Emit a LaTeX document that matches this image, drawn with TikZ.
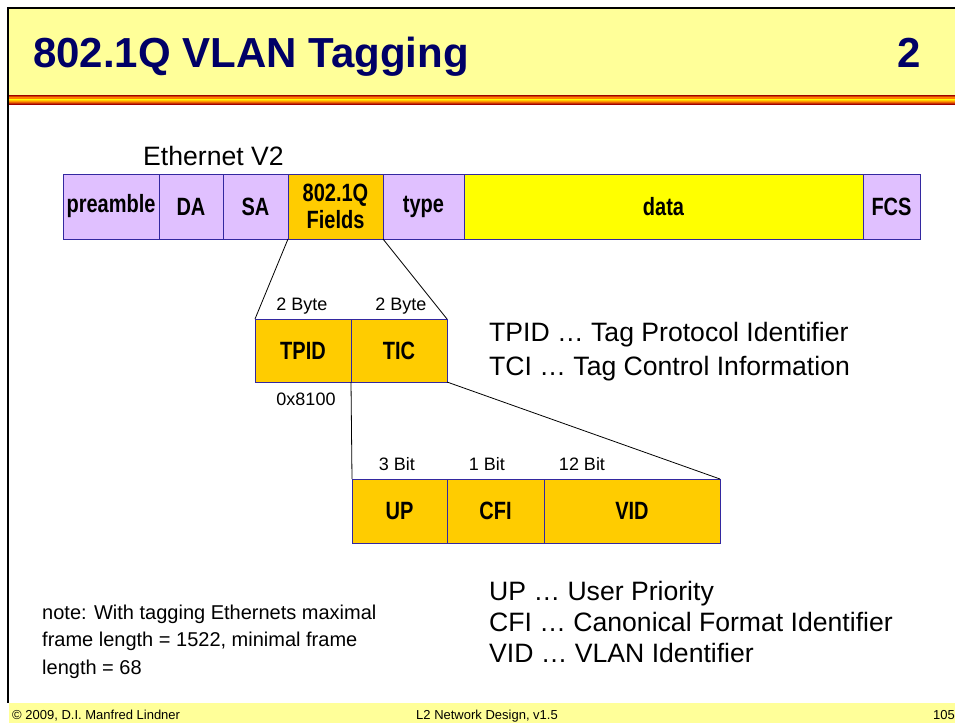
\documentclass[tikz,border=0pt]{standalone}
\usepackage{fontspec}
\setmainfont{Liberation Sans}
\newfontfamily\narrowfont[FakeStretch=0.80]{Liberation Sans}
\definecolor{lav}{RGB}{224,192,255}
\definecolor{orng}{RGB}{255,204,0}
\definecolor{ylw}{RGB}{255,255,0}
\definecolor{hdr}{RGB}{255,255,153}
\definecolor{navy}{RGB}{0,0,102}
\definecolor{bline}{RGB}{51,40,160}
\definecolor{dred}{RGB}{160,0,0}
\tikzset{
  field/.style={draw=bline, line width=1pt, anchor=north west, inner sep=0pt, outer sep=0pt,
    align=center, font=\narrowfont\bfseries\fontsize{25}{28}\selectfont},
  small/.style={anchor=base, inner sep=0pt, font=\fontsize{18}{21}\selectfont},
  big/.style={anchor=base west, inner sep=0pt, font=\fontsize{26.6}{31}\selectfont},
  note/.style={anchor=base west, inner sep=0pt, font=\fontsize{20}{24}\selectfont},
  foot/.style={anchor=base west, inner sep=0pt, font=\fontsize{13}{15}\selectfont},
  conn/.style={draw=black, line width=0.8pt}
}
\begin{document}
\begin{tikzpicture}[x=1pt, y=-1pt]
\useasboundingbox (0,0) rectangle (955,723);
% header
\fill[hdr] (9,9) rectangle (955,95);
\shade[top color=dred, bottom color=orange, middle color=orange] (9,95) rectangle (955,99);
\shade[top color=ylw, bottom color=dred, middle color=orange] (9,99) rectangle (955,104);
\draw[line width=2.5pt] (8,8) -- (955,8);
\draw[line width=2pt] (8,7) -- (8,703);
\node[anchor=base west, inner sep=0pt, text=navy, font=\bfseries\fontsize{42}{48}\selectfont] (title) at (33,67) {802.1Q VLAN Tagging};
\node[anchor=base west, inner sep=0pt, text=navy, font=\bfseries\fontsize{42}{48}\selectfont] (num) at (897,67) {2};
% footer
\fill[hdr] (9,703) rectangle (955,723);
\node[foot] (f1) at (12,719) {\textcopyright{} 2009, D.I. Manfred Lindner};
\node[foot] (f2) at (416,719) {L2 Network Design, v1.5};
\node[foot] (f3) at (933,719) {105};
% ethernet frame
\node[big] (eth) at (143,165) {Ethernet V2};
\node[field, fill=lav, minimum width=96pt, minimum height=65pt] (pre) at (63,174) {preamble};
\node[field, fill=lav, minimum width=64pt, minimum height=65pt] (da) at (pre.north east) {DA};
\node[field, fill=lav, minimum width=65pt, minimum height=65pt] (sa) at (da.north east) {SA};
\node[field, fill=orng, minimum width=95pt, minimum height=65pt] (q) at (sa.north east) {802.1Q\\[-1pt]Fields};
\node[field, fill=lav, minimum width=81pt, minimum height=65pt] (type) at (q.north east) {type};
\node[field, fill=ylw, minimum width=399pt, minimum height=65pt] (data) at (type.north east) {data};
\node[field, fill=lav, minimum width=57pt, minimum height=65pt] (fcs) at (data.north east) {FCS};
% tag
\node[field, fill=orng, minimum width=96pt, minimum height=63pt] (tpid) at (255,319) {TPID};
\node[field, fill=orng, minimum width=96pt, minimum height=63pt] (tic) at (tpid.north east) {TIC};
\node[small] (b1) at (302,310.5) {2 Byte};
\node[small] (b2) at (401,310.5) {2 Byte};
\node[small] (hex) at (306,405.5) {0x8100};
\draw[conn] (q.south west) -- (tpid.north west);
\draw[conn] (q.south east) -- (tic.north east);
\node[big] (t1) at (489,341) {TPID \dots{} Tag Protocol Identifier};
\node[big] (t2) at (489,375) {TCI \dots{} Tag Control Information};
% tci
\node[field, fill=orng, minimum width=95pt, minimum height=64pt] (up) at (352,479) {UP};
\node[field, fill=orng, minimum width=97pt, minimum height=64pt] (cfi) at (up.north east) {CFI};
\node[field, fill=orng, minimum width=176pt, minimum height=64pt] (vid) at (cfi.north east) {VID};
\node[small] (c1) at (397,470.5) {3 Bit};
\node[small] (c2) at (487,470.5) {1 Bit};
\node[small] (c3) at (582,470.5) {12 Bit};
\draw[conn] (tic.south west) -- (up.north west);
\draw[conn] (tic.south east) -- (vid.north east);
% legends
\node[big] (u1) at (489,600) {UP \dots{} User Priority};
\node[big] (u2) at (489,631) {CFI \dots{} Canonical Format Identifier};
\node[big] (u3) at (489,662) {VID \dots{} VLAN Identifier};
\node[note] (n1) at (42,619) {note: With tagging Ethernets maximal};
\node[note] (n2) at (42,646) {frame length = 1522, minimal frame};
\node[note] (n3) at (42,674) {length = 68};
\end{tikzpicture}
\end{document}
